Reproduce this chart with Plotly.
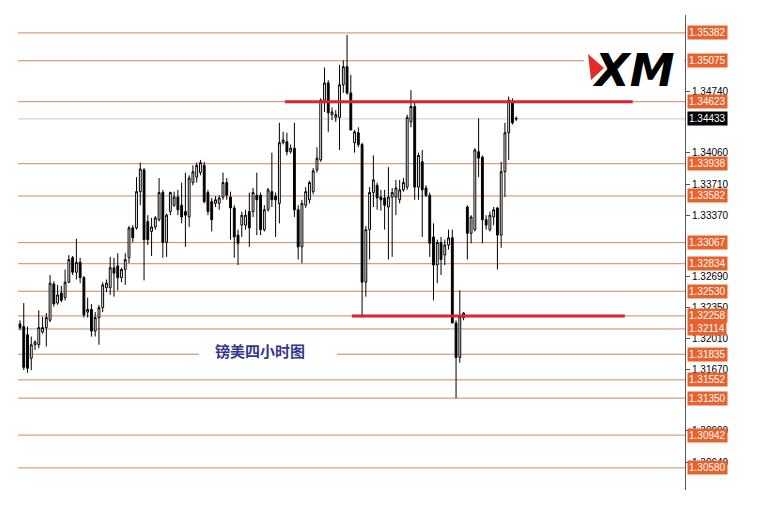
import plotly.graph_objects as go

# ---------------- data (GBP/USD 4H candles) ----------------
opens = [1.3217,1.3214,1.3205,1.3179,1.3194,1.3194,1.3208,1.3213,1.3221,1.3261,
         1.3240,1.3251,1.3246,1.3263,1.3290,1.3274,1.3285,1.3268,1.3230,1.3233,
         1.3209,1.3224,1.3235,1.3257,1.3257,1.3279,1.3281,1.3268,1.3277,1.3290,
         1.3323,1.3323,1.3363,1.3387,1.3330,1.3319,1.3324,1.3332,1.3362,1.3307,
         1.3341,1.3348,1.3357,1.3348,1.3341,1.3335,1.3373,1.3379,1.3384,1.3392,
         1.3362,1.3352,1.3350,1.3350,1.3357,1.3373,1.3357,1.3345,1.3315,1.3326,
         1.3326,1.3341,1.3341,1.3359,1.3359,1.3321,1.3343,1.3363,1.3358,1.3350,
         1.3417,1.3418,1.3407,1.3411,1.3343,1.3302,1.3348,1.3354,1.3363,1.3387,
         1.3398,1.3464,1.3483,1.3448,1.3445,1.3445,1.3481,1.3501,1.3472,1.3417,
         1.3428,1.3415,1.3263,1.3321,1.3362,1.3370,1.3357,1.3356,1.3346,1.3357,
         1.3357,1.3354,1.3365,1.3368,1.3440,1.3457,1.3368,1.3396,1.3367,1.3359,
         1.3313,1.3282,1.3307,1.3293,1.3304,1.3312,1.3218,1.3180,1.3224,1.3346,
         1.3317,1.3321,1.3407,1.3401,1.3332,1.3321,1.3335,1.3345,1.3315,1.3385,
         1.3428,1.3461,1.3444]
highs = [1.3221,1.3240,1.3214,1.3203,1.3199,1.3232,1.3225,1.3229,1.3271,1.3264,
         1.3260,1.3259,1.3277,1.3293,1.3292,1.3311,1.3290,1.3270,1.3246,1.3239,
         1.3230,1.3238,1.3263,1.3266,1.3291,1.3290,1.3295,1.3279,1.3295,1.3325,
         1.3326,1.3379,1.3395,1.3389,1.3337,1.3334,1.3336,1.3378,1.3365,1.3339,
         1.3363,1.3363,1.3365,1.3373,1.3384,1.3381,1.3392,1.3395,1.3398,1.3396,
         1.3365,1.3356,1.3358,1.3359,1.3384,1.3378,1.3363,1.3348,1.3321,1.3341,
         1.3343,1.3362,1.3367,1.3384,1.3362,1.3348,1.3367,1.3406,1.3362,1.3439,
         1.3429,1.3428,1.3415,1.3439,1.3348,1.3354,1.3368,1.3375,1.3389,1.3412,
         1.3466,1.3500,1.3486,1.3456,1.3453,1.3503,1.3508,1.3536,1.3492,1.3431,
         1.3434,1.3417,1.3325,1.3368,1.3403,1.3373,1.3365,1.3365,1.3390,1.3367,
         1.3376,1.3376,1.3378,1.3448,1.3475,1.3461,1.3406,1.3409,1.3370,1.3362,
         1.3328,1.3310,1.3313,1.3310,1.3321,1.3321,1.3221,1.3254,1.3230,1.3348,
         1.3337,1.3411,1.3444,1.3403,1.3337,1.3341,1.3346,1.3346,1.3396,1.3439,
         1.3468,1.3466,1.3446]
lows = [1.3210,1.3166,1.3163,1.3166,1.3188,1.3190,1.3206,1.3192,1.3219,1.3236,
        1.3238,1.3241,1.3243,1.3262,1.3271,1.3266,1.3262,1.3224,1.3224,1.3203,
        1.3203,1.3194,1.3230,1.3252,1.3249,1.3247,1.3254,1.3263,1.3260,1.3284,
        1.3307,1.3321,1.3348,1.3265,1.3304,1.3292,1.3321,1.3330,1.3290,1.3291,
        1.3337,1.3346,1.3337,1.3328,1.3302,1.3324,1.3370,1.3373,1.3381,1.3350,
        1.3337,1.3319,1.3346,1.3343,1.3354,1.3354,1.3310,1.3290,1.3282,1.3313,
        1.3321,1.3302,1.3335,1.3315,1.3315,1.3319,1.3341,1.3346,1.3313,1.3328,
        1.3415,1.3403,1.3405,1.3335,1.3288,1.3284,1.3345,1.3350,1.3360,1.3384,
        1.3396,1.3451,1.3429,1.3442,1.3440,1.3409,1.3472,1.3470,1.3431,1.3406,
        1.3412,1.3224,1.3247,1.3288,1.3346,1.3343,1.3342,1.3321,1.3288,1.3291,
        1.3337,1.3350,1.3363,1.3365,1.3434,1.3354,1.3354,1.3313,1.3357,1.3291,
        1.3243,1.3262,1.3271,1.3282,1.3299,1.3218,1.3135,1.3174,1.3221,1.3288,
        1.3306,1.3319,1.3379,1.3306,1.3321,1.3319,1.3326,1.3277,1.3301,1.3357,
        1.3398,1.3437,1.3441]
closes = [1.3213,1.3169,1.3168,1.3194,1.3197,1.3213,1.3213,1.3224,1.3262,1.3239,
          1.3249,1.3243,1.3263,1.3288,1.3274,1.3285,1.3268,1.3227,1.3233,1.3209,
          1.3224,1.3235,1.3260,1.3262,1.3279,1.3273,1.3268,1.3277,1.3288,1.3323,
          1.3312,1.3363,1.3388,1.3310,1.3310,1.3324,1.3334,1.3362,1.3307,1.3337,
          1.3362,1.3357,1.3343,1.3335,1.3337,1.3378,1.3385,1.3392,1.3395,1.3352,
          1.3341,1.3332,1.3354,1.3356,1.3373,1.3359,1.3345,1.3313,1.3306,1.3337,
          1.3337,1.3323,1.3362,1.3354,1.3321,1.3343,1.3365,1.3354,1.3354,1.3417,
          1.3420,1.3407,1.3411,1.3343,1.3302,1.3350,1.3363,1.3373,1.3386,1.3400,
          1.3464,1.3483,1.3450,1.3451,1.3448,1.3481,1.3501,1.3472,1.3431,1.3429,
          1.3415,1.3263,1.3321,1.3362,1.3376,1.3356,1.3354,1.3348,1.3357,1.3362,
          1.3367,1.3365,1.3373,1.3445,1.3457,1.3368,1.3403,1.3365,1.3359,1.3306,
          1.3282,1.3307,1.3288,1.3304,1.3312,1.3218,1.3180,1.3225,1.3229,1.3317,
          1.3335,1.3409,1.3400,1.3332,1.3326,1.3337,1.3343,1.3315,1.3385,1.3428,
          1.3464,1.3439,1.34433]

levels = [1.35382, 1.35075, 1.34623, 1.33938, 1.33582, 1.33067, 1.32834, 1.32530,
          1.32258, 1.32114, 1.31835, 1.31552, 1.31350, 1.30942, 1.30580]
level_labels = ["1.35382", "1.35075", "1.34623", "1.33938", "1.33582", "1.33067", "1.32834",
                "1.32530", "1.32258", "1.32114", "1.31835", "1.31552", "1.31350", "1.30942",
                "1.30580"]
current_price = 1.34433
current_label = "1.34433"
tick_vals = [1.34740, 1.34060, 1.33710, 1.33370, 1.32690, 1.32350, 1.32010,
             1.31670, 1.30990, 1.30640]
tick_text = ["1.34740", "1.34060", "1.33710", "1.33370", "1.32690", "1.32350",
             "1.32010", "1.31670", "1.30990", "1.30640"]
red_levels = [1.34623, 1.32258]
red_start = [70.5, 88.3]
red_end = [163.0, 160.9]
chart_title = "镑美四小时图"
title_pos = (63.8, 1.31875)

x = list(range(len(opens)))

# ---------------- figure geometry (page is drawn at an 8px body offset) ----------------
OX, OY = 8, 8
W, H = 752, 514
ML, MR, MT, MB = 10, 75, 7, 32
PW, PH = W - ML - MR, H - MT - MB


def px(xp):
    return (xp - OX - ML) / PW


def py(yp):
    return (OY + H - MB - yp) / PH


fig = go.Figure()
fig.add_trace(go.Candlestick(
    x=x, open=opens, high=highs, low=lows, close=closes,
    increasing=dict(line=dict(color="black", width=1), fillcolor="white"),
    decreasing=dict(line=dict(color="black", width=1), fillcolor="black"),
    whiskerwidth=0, hoverinfo="skip", showlegend=False,
))

shapes = []
for lv in levels:
    shapes.append(dict(type="line", xref="paper", x0=0, x1=1, yref="y", y0=lv, y1=lv,
                       line=dict(color="#c98a62", width=1), layer="below"))
shapes.append(dict(type="line", xref="paper", x0=0, x1=1, yref="y", y0=current_price,
                   y1=current_price, line=dict(color="#c8c8c8", width=1), layer="below"))
# white gap behind the title text
shapes.append(dict(type="rect", xref="paper", x0=px(199), x1=px(337), yref="paper",
                   y0=py(360), y1=py(345), fillcolor="white", line=dict(width=0), layer="below"))
# white box behind the logo
shapes.append(dict(type="rect", xref="paper", x0=px(584), x1=px(684), yref="paper",
                   y0=py(93), y1=py(44), fillcolor="white", line=dict(width=0), layer="above"))
for lv, a, b in zip(red_levels, red_start, red_end):
    shapes.append(dict(type="line", xref="x", x0=a, x1=b, yref="y", y0=lv, y1=lv,
                       line=dict(color="#d9232e", width=3), layer="above"))
# red chevron of the logo
shapes.append(dict(type="path", xref="paper", yref="paper",
                   path=f"M {px(588)} {py(54)} L {px(604)} {py(68)} L {px(591)} {py(80)} Z",
                   fillcolor="#e32b2b", line=dict(width=0), layer="above"))

annotations = []
for lv, lab in zip(levels, level_labels):
    annotations.append(dict(x=1, xref="paper", xanchor="left", xshift=2, y=lv, yref="y",
                            yanchor="middle", text=lab, showarrow=False, bgcolor="#e8622e",
                            borderpad=1,
                            font=dict(color="white", size=10, family="Liberation Sans")))
annotations.append(dict(x=1, xref="paper", xanchor="left", xshift=2, y=current_price, yref="y",
                        yanchor="middle", text=current_label, showarrow=False, bgcolor="black",
                        borderpad=1,
                        font=dict(color="white", size=10, family="Liberation Sans")))
annotations.append(dict(x=title_pos[0], y=title_pos[1], xref="x", yref="y",
                        text="<b>" + chart_title + "</b>",
                        xanchor="center", yanchor="middle", showarrow=False,
                        font=dict(color="#35358f", size=15, family="Noto Sans CJK SC")))
annotations.append(dict(x=px(633), y=py(70), xref="paper", yref="paper", text="<b><i>XM</i></b>",
                        xanchor="center", yanchor="middle", showarrow=False,
                        font=dict(color="black", size=45, family="DejaVu Sans")))

fig.update_layout(
    width=W, height=H, margin=dict(l=ML, r=MR, t=MT, b=MB),
    paper_bgcolor="white", plot_bgcolor="white",
    shapes=shapes, annotations=annotations, showlegend=False,
    xaxis=dict(range=[-0.53, 176.9], visible=False, rangeslider=dict(visible=False)),
    yaxis=dict(range=[1.30336, 1.35580], side="right", showgrid=False, zeroline=False,
               tickvals=tick_vals, ticktext=tick_text, ticks="outside", ticklen=4,
               tickcolor="#555", showline=True, linecolor="#555", linewidth=1,
               tickfont=dict(color="black", size=10, family="Liberation Sans")),
)

fig.write_html("out.html")
